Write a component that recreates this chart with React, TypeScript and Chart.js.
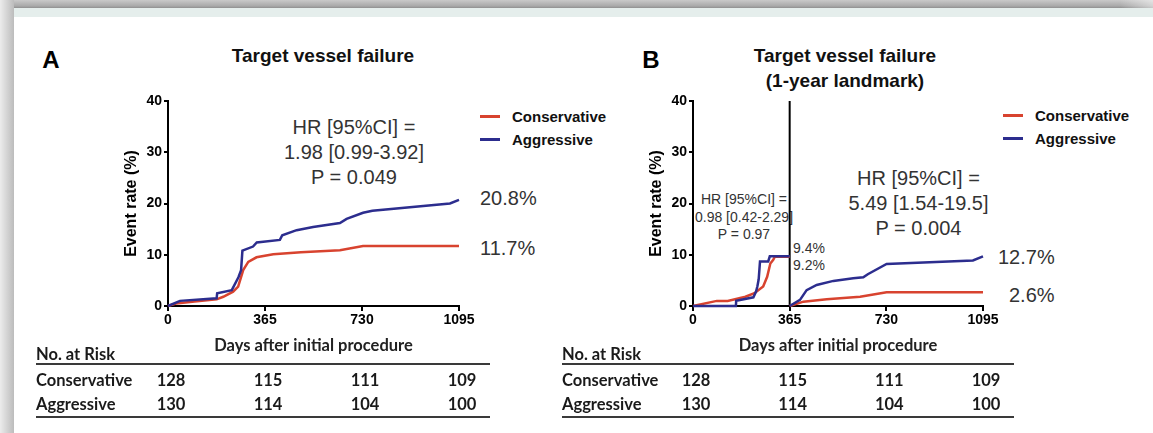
import React, { useEffect, useRef } from 'react';
import { Chart, registerables } from 'chart.js';

Chart.register(...registerables);

// ---------- data ----------
const xTicks = [0, 365, 730, 1095];
const yTicks = [0, 10, 20, 30, 40];
const landmarkDay = 365;

// Panel A: Target vessel failure
const aConsDays = [0, 30, 100, 183, 208, 245, 264, 283, 302, 333, 396, 500, 647, 734, 1095];
const aConsRate = [0, 0.5, 0.9, 1.3, 1.8, 2.8, 3.8, 7.0, 8.6, 9.5, 10.1, 10.5, 10.9, 11.7, 11.7];
const aAggDays = [0, 45, 183, 185, 240, 265, 275, 280, 320, 334, 421, 430, 484, 546, 647, 672, 734, 769, 1061, 1095];
const aAggRate = [0, 1.0, 1.5, 2.5, 3.1, 5.6, 7.0, 10.8, 11.6, 12.4, 12.9, 13.8, 14.8, 15.4, 16.2, 17.0, 18.2, 18.6, 20.0, 20.7];

// Panel B: 1-year landmark (before and after day 365)
const bConsPreDays = [0, 90, 131, 198, 232, 265, 280, 292, 303, 309, 365];
const bConsPreRate = [0, 1.0, 1.0, 1.8, 2.5, 3.8, 5.7, 8.3, 9.0, 9.6, 9.6];
const bAggPreDays = [0, 162, 163, 228, 238, 243, 248, 253, 284, 290, 365];
const bAggPreRate = [0, 0, 1.0, 1.7, 2.8, 3.8, 5.2, 8.7, 8.7, 9.7, 9.7];
const bConsPostDays = [365, 417, 505, 631, 731, 1095];
const bConsPostRate = [0, 0.85, 1.3, 1.8, 2.7, 2.7];
const bAggPostDays = [365, 404, 429, 467, 530, 605, 643, 660, 731, 1057, 1095];
const bAggPostRate = [0, 1.2, 3.1, 4.1, 4.9, 5.4, 5.6, 6.2, 8.2, 8.9, 9.7];

const seriesNames = ['Conservative', 'Aggressive'];
const finalA = ['11.7%', '20.8%'];
const finalB = ['2.6%', '12.7%'];
const landmarkLabels = ['9.4%', '9.2%'];
const hrA = ['HR [95%CI] =', '1.98 [0.99-3.92]', 'P = 0.049'];
const hrBpre = ['HR [95%CI] =', '0.98 [0.42-2.29]', 'P = 0.97'];
const hrBpost = ['HR [95%CI] =', '5.49 [1.54-19.5]', 'P = 0.004'];
const riskCons = [128, 115, 111, 109];
const riskAggr = [130, 114, 104, 100];

// ---------- style ----------
const FONT = "'Liberation Sans', Arial, Helvetica, sans-serif";
const TFONT = "Lato, 'Open Sans', sans-serif";
const RED = '#d8432f';
const BLUE = '#2c2d8e';
const TXT = '#333333';

const PLOT_TOP = 101;
const PLOT_BOTTOM = 306;
const A_LEFT = 168, A_RIGHT = 459;
const B_LEFT = 693, B_RIGHT = 983;
const Y_BOX = 58;
const PAD_R = 24;
const CANVAS_TOP = 90;
const CANVAS_H = 270;

function pts(days: number[], rates: number[]) {
  return days.map((d, i) => ({ x: d, y: rates[i] }));
}

function line(data: any[], color: string, width = 2.5) {
  return { data, borderColor: color, backgroundColor: color, borderWidth: width, pointRadius: 0, tension: 0, fill: false, clip: 4 };
}

function makeConfig(datasets: any[]): any {
  return {
    type: 'line',
    data: { datasets },
    options: {
      responsive: false,
      animation: false,
      events: [],
      layout: { padding: { top: PLOT_TOP - CANVAS_TOP, right: PAD_R, bottom: 0, left: 0 } },
      plugins: { legend: { display: false }, tooltip: { enabled: false }, title: { display: false } },
      scales: {
        x: {
          type: 'linear',
          min: xTicks[0],
          max: xTicks[xTicks.length - 1],
          afterBuildTicks: (s: any) => { s.ticks = xTicks.map((v) => ({ value: v })); },
          afterFit: (s: any) => { s.height = CANVAS_TOP + CANVAS_H - PLOT_BOTTOM; },
          grid: { drawOnChartArea: false, drawTicks: true, tickLength: 5, color: '#000', lineWidth: 2 },
          border: { display: true, color: '#000', width: 2 },
          ticks: {
            color: '#000', padding: 1, maxRotation: 0, autoSkip: false,
            font: { family: FONT, size: 14, weight: 'bold' },
            callback: (v: any) => String(v),
          },
          title: {
            display: true, text: 'Days after initial procedure', color: '#222',
            font: { family: TFONT, size: 16.5, weight: 'bold' },
            padding: { top: 0, bottom: 4 },
          },
        },
        y: {
          type: 'linear',
          min: yTicks[0],
          max: yTicks[yTicks.length - 1],
          afterBuildTicks: (s: any) => { s.ticks = yTicks.map((v) => ({ value: v })); },
          afterFit: (s: any) => { s.width = Y_BOX; },
          grid: { drawOnChartArea: false, drawTicks: true, tickLength: 4, color: '#000', lineWidth: 2 },
          border: { display: true, color: '#000', width: 2 },
          ticks: {
            color: '#000', padding: 2,
            font: { family: FONT, size: 14, weight: 'bold' },
            callback: (v: any) => String(v),
          },
          title: {
            display: true, text: 'Event rate (%)', color: '#000',
            font: { family: FONT, size: 16, weight: 'bold' },
            padding: { top: 12, bottom: 0 },
          },
        },
      },
    },
  };
}

type TProps = { x: number; y: number; children: React.ReactNode; align?: 'left' | 'center' | 'right'; size: number; weight?: number | string; color?: string; family?: string };
const T = ({ x, y, children, align = 'center', size, weight = 400, color = TXT, family = FONT }: TProps) => (
  <div
    style={{
      position: 'absolute', left: x, top: y,
      transform: align === 'center' ? 'translate(-50%,-50%)' : align === 'left' ? 'translate(0,-50%)' : 'translate(-100%,-50%)',
      whiteSpace: 'nowrap', lineHeight: 1, fontSize: size, fontWeight: weight as any, color, fontFamily: family,
    }}
  >
    {children}
  </div>
);

const Rule = ({ x1, x2, y, h = 2, color = '#3a3a3a' }: { x1: number; x2: number; y: number; h?: number; color?: string }) => (
  <div style={{ position: 'absolute', left: x1, top: y - h / 2, width: x2 - x1, height: h, background: color }} />
);

const Legend = ({ x, y }: { x: number; y: number }) => (
  <>
    <Rule x1={x} x2={x + 20} y={y} h={3} color={RED} />
    <T x={x + 32} y={y} align="left" size={15} weight={700} color="#111">{seriesNames[0]}</T>
    <Rule x1={x} x2={x + 20} y={y + 23} h={3} color={BLUE} />
    <T x={x + 32} y={y + 23} align="left" size={15} weight={700} color="#111">{seriesNames[1]}</T>
  </>
);

const RiskTable = ({ x, plotLeft, plotRight }: { x: number; plotLeft: number; plotRight: number }) => {
  const px = (d: number) => plotLeft + (d / xTicks[xTicks.length - 1]) * (plotRight - plotLeft) + 3;
  const c = '#1a1a1a';
  return (
    <>
      <T x={x} y={354} align="left" size={16.5} weight={700} color={c} family={TFONT}>No. at Risk</T>
      <Rule x1={x} x2={plotRight + 31} y={364} />
      <T x={x} y={380} align="left" size={16.5} weight={700} color={c} family={TFONT}>{seriesNames[0]}</T>
      <T x={x} y={404} align="left" size={16.5} weight={700} color={c} family={TFONT}>{seriesNames[1]}</T>
      {xTicks.map((d, i) => (
        <React.Fragment key={d}>
          <T x={px(d)} y={380} size={16.5} weight={700} color={c} family={TFONT}>{riskCons[i]}</T>
          <T x={px(d)} y={404} size={16.5} weight={700} color={c} family={TFONT}>{riskAggr[i]}</T>
        </React.Fragment>
      ))}
      <Rule x1={x} x2={plotRight + 31} y={417} />
    </>
  );
};

export default function App() {
  const refA = useRef<HTMLCanvasElement>(null);
  const refB = useRef<HTMLCanvasElement>(null);

  useEffect(() => {
    const chartA = new Chart(refA.current as HTMLCanvasElement, makeConfig([
      line(pts(aAggDays, aAggRate), BLUE),
      line(pts(aConsDays, aConsRate), RED),
    ]));
    const chartB = new Chart(refB.current as HTMLCanvasElement, makeConfig([
      line(pts(bAggPreDays, bAggPreRate), BLUE),
      line(pts(bAggPostDays, bAggPostRate), BLUE),
      line(pts(bConsPreDays, bConsPreRate), RED),
      line(pts(bConsPostDays, bConsPostRate), RED),
      line([{ x: landmarkDay, y: yTicks[0] }, { x: landmarkDay, y: yTicks[yTicks.length - 1] }], '#000', 2),
    ]));
    return () => { chartA.destroy(); chartB.destroy(); };
  }, []);

  const aCanvasLeft = A_LEFT - Y_BOX;
  const bCanvasLeft = B_LEFT - Y_BOX;

  return (
    <div style={{ position: 'fixed', left: 0, top: 0, width: 1153, height: 433, background: '#fff', overflow: 'hidden' }}>
      {/* frame */}
      <div style={{ position: 'absolute', left: 0, top: 0, width: 1153, height: 8, background: 'linear-gradient(to bottom, #c9c9c9, #a9a9a9 75%, #8f8f8f)' }} />
      <div style={{ position: 'absolute', left: 1120, top: 0, width: 33, height: 8, background: 'linear-gradient(to right, rgba(255,255,255,0), rgba(255,255,255,0.5))' }} />
      <div style={{ position: 'absolute', left: 14, top: 8, width: 1139, height: 9, background: '#e5eeec' }} />
      <div style={{ position: 'absolute', left: 0, top: 0, width: 14, height: 433, background: 'linear-gradient(to right, #ececec, #d6d6d6 45%, #bcbcbc)' }} />

      {/* Panel A text */}
      <T x={51} y={60} size={24} weight={700} color="#000">A</T>
      <T x={323} y={55} size={19} weight={700} color="#111">Target vessel failure</T>
      {hrA.map((s, i) => <T key={i} x={354} y={127 + i * 25} size={20}>{s}</T>)}
      <Legend x={480} y={116} />
      <T x={480} y={198} align="left" size={20}>{finalA[1]}</T>
      <T x={480} y={247.5} align="left" size={20}>{finalA[0]}</T>

      {/* Panel B text */}
      <T x={651} y={60} size={24} weight={700} color="#000">B</T>
      <T x={845} y={55} size={19} weight={700} color="#111">Target vessel failure</T>
      <T x={845} y={80} size={19} weight={700} color="#111">(1-year landmark)</T>
      {hrBpre.map((s, i) => <T key={i} x={744} y={199 + i * 17.5} size={14}>{s}</T>)}
      <T x={793} y={248} align="left" size={14}>{landmarkLabels[0]}</T>
      <T x={793} y={265} align="left" size={14}>{landmarkLabels[1]}</T>
      {hrBpost.map((s, i) => <T key={i} x={918.5} y={178 + i * 25} size={20}>{s}</T>)}
      <Legend x={1003} y={115} />
      <T x={998} y={257} align="left" size={20}>{finalB[1]}</T>
      <T x={1009} y={295} align="left" size={20}>{finalB[0]}</T>

      {/* charts */}
      <canvas
        ref={refA}
        width={A_RIGHT + PAD_R - aCanvasLeft}
        height={CANVAS_H}
        style={{ position: 'absolute', left: aCanvasLeft, top: CANVAS_TOP }}
      />
      <canvas
        ref={refB}
        width={B_RIGHT + PAD_R - bCanvasLeft}
        height={CANVAS_H}
        style={{ position: 'absolute', left: bCanvasLeft, top: CANVAS_TOP }}
      />

      {/* risk tables */}
      <RiskTable x={36} plotLeft={A_LEFT} plotRight={A_RIGHT} />
      <RiskTable x={562} plotLeft={B_LEFT} plotRight={B_RIGHT} />
    </div>
  );
}
